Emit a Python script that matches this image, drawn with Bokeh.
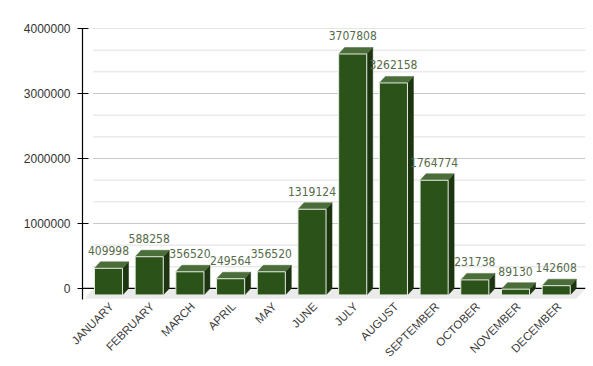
from bokeh.plotting import figure
from bokeh.models import Range1d, FixedTicker, LinearAxis, ColumnDataSource
from bokeh.core.properties import value
from bokeh.embed import file_html
from bokeh.resources import INLINE
import math

months = ["JANUARY", "FEBRUARY", "MARCH", "APRIL", "MAY", "JUNE", "JULY",
          "AUGUST", "SEPTEMBER", "OCTOBER", "NOVEMBER", "DECEMBER"]
visits = [409998, 588258, 356520, 249564, 356520, 1319124, 3707808,
          3262158, 1764774, 231738, 89130, 142608]
y_major = [0, 1000000, 2000000, 3000000, 4000000]
y_minor_step = 1000000 / 3

# style / layout constants
BW = 0.69          # bar front width (category units)
DX = 0.147         # 3D depth, x (category units)
DY = 100000        # 3D depth, y (value units)
X0, X1 = -0.7125, 11.646
Y0, Y1 = -170000, 4000000
PLANE_LEFT = -0.45

FRONT = "#2b5219"
TOP = "#4b6d3a"
SIDE = "#1c3510"

p = figure(width=588, height=366, output_backend="svg", toolbar_location=None,
           x_range=Range1d(X0, X1), y_range=Range1d(Y0, Y1),
           min_border_left=82, min_border_top=28, min_border_right=3,
           min_border_bottom=64, x_axis_type=None, y_axis_type=None)
p.outline_line_color = None
p.background_fill_color = "white"
p.border_fill_color = "white"
p.xgrid.visible = False
p.ygrid.visible = False

n = len(months)

# floor
p.patch([PLANE_LEFT - 1.5 * DX, PLANE_LEFT, X1, X1 - 1.5 * DX],
        [-1.6 * DY, 0, 0, -1.6 * DY], fill_color="#ebebeb", line_color=None)

# grid lines (major + minor)
minor = []
for k in range(len(y_major) - 1):
    for j in (1, 2):
        minor.append(y_major[k] + j * y_minor_step)
p.segment(x0=[PLANE_LEFT] * len(minor), x1=[X1] * len(minor), y0=minor, y1=minor,
          line_color="#e0e0e0", line_width=1)
grid_major = y_major[1:]
p.segment(x0=[PLANE_LEFT] * len(grid_major), x1=[X1] * len(grid_major),
          y0=grid_major, y1=grid_major, line_color="#c8c8c8", line_width=1)
# zero baseline
p.segment(x0=[X0], x1=[X1], y0=[0], y1=[0], line_color="black", line_width=1.2)

# bars
fc = [i - DX / 2 for i in range(n)]
L = [c - BW / 2 for c in fc]
R = [c + BW / 2 for c in fc]

top_xs = [[l, l + DX, r + DX, r] for l, r in zip(L, R)]
top_ys = [[v - DY, v, v, v - DY] for v in visits]
side_xs = [[r, r + DX, r + DX, r] for r in R]
side_ys = [[-DY, 0, v, v - DY] for v in visits]

p.patches(side_xs, side_ys, fill_color=SIDE, line_color=SIDE, line_width=0.5)
p.patches(top_xs, top_ys, fill_color=TOP, line_color=TOP, line_width=0.5)
p.quad(left=L, right=R, bottom=[-DY] * n, top=[v - DY for v in visits],
       fill_color=FRONT, line_color="#e6ede2", line_width=1)

# value labels
src = ColumnDataSource(dict(x=fc, y=visits, t=[str(v) for v in visits]))
p.text(x="x", y="y", text="t", source=src, y_offset=-7,
       text_align="center", text_baseline="bottom",
       text_font=value("DejaVu Sans Condensed"), text_font_size="12px",
       text_color="#566b4a")

# y axis
yaxis = LinearAxis(ticker=FixedTicker(ticks=y_major, minor_ticks=[]))
yaxis.axis_line_color = "black"
yaxis.axis_line_width = 1.2
yaxis.major_tick_line_color = "black"
yaxis.major_tick_line_width = 1.2
yaxis.major_tick_in = 6
yaxis.major_tick_out = 5
yaxis.minor_tick_line_color = None
yaxis.major_label_standoff = 7
yaxis.major_label_text_font = "Liberation Sans"
yaxis.major_label_text_font_size = "12px"
yaxis.major_label_text_color = "#333333"
yaxis.formatter.use_scientific = False
p.add_layout(yaxis, "left")

# x axis (labels only)
xaxis = LinearAxis(ticker=FixedTicker(ticks=list(range(n)), minor_ticks=[]))
xaxis.major_label_overrides = {i: m for i, m in enumerate(months)}
xaxis.axis_line_color = None
xaxis.major_tick_line_color = None
xaxis.minor_tick_line_color = None
xaxis.major_tick_out = 0
xaxis.major_tick_in = 0
xaxis.major_label_standoff = 5
xaxis.major_label_orientation = math.pi / 4
xaxis.major_label_text_font = "Liberation Sans"
xaxis.major_label_text_font_size = "11.5px"
xaxis.major_label_text_color = "#3a3a3a"
p.add_layout(xaxis, "below")

open("out.html", "w").write(file_html(p, INLINE))
